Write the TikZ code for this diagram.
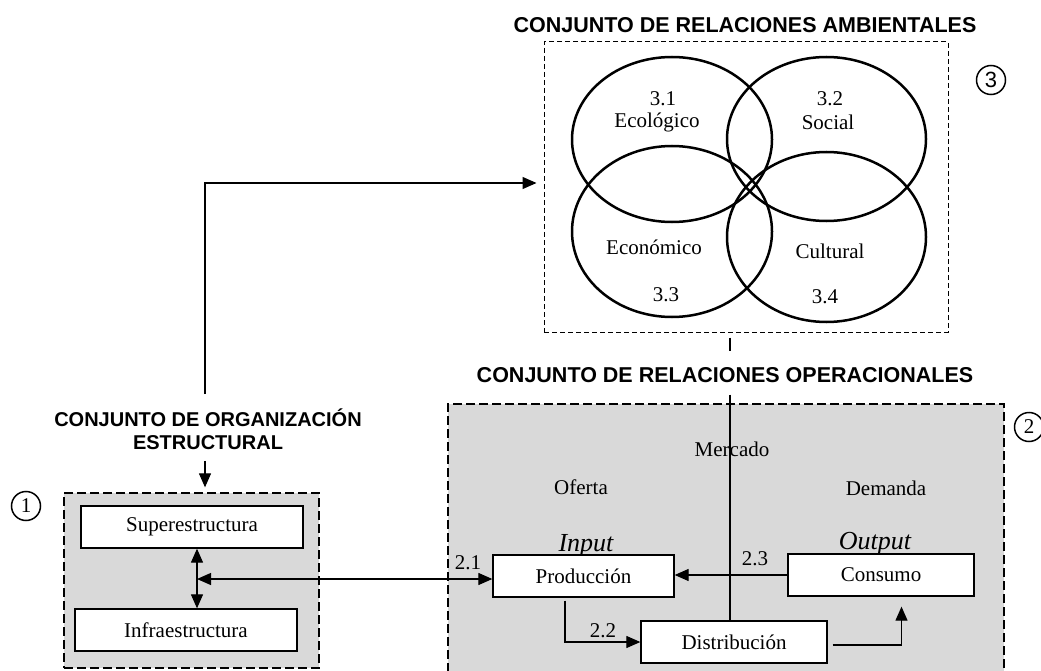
\documentclass[tikz,border=0pt]{standalone}
\usepackage{fontspec}
\setmainfont{Liberation Serif}
\setsansfont{Liberation Sans}
\usetikzlibrary{arrows.meta, graphs, shapes.geometric}

\begin{document}
\begin{tikzpicture}[
                x=1pt, y=-1pt,
                ->,
                >={Triangle[length=14pt, width=12pt]},
                line width=1.2pt,
                every node/.style={font=\fontsize{21}{24}\selectfont},
                title/.style={font=\fontsize{20}{23}\selectfont\sffamily\bfseries, align=center},
                bigtitle/.style={title, font=\fontsize{21.5}{24}\selectfont\sffamily\bfseries},
                box/.style={draw, fill=white, line width=1.3pt, minimum height=42pt, inner sep=0pt},
                area/.style={draw, fill=gray!30, dash pattern=on 9pt off 4pt, line width=1.3pt},
                venn/.style={draw, ellipse, line width=2.5pt, inner sep=0pt},
                tag/.style={draw, circle, minimum size=29pt, inner sep=0pt, line width=1.5pt},
                io/.style={font=\fontsize{26}{28}\selectfont\itshape},
            ]
            \useasboundingbox (0,0) rectangle (1041,671);

            \node[bigtitle] (envtitle) at (745,25) {CONJUNTO DE RELACIONES AMBIENTALES};
            \node[draw, dash pattern=on 5pt off 3pt, line width=1pt,
                minimum width=404pt, minimum height=290pt] (env) at (746,187) {};
            \node[venn, minimum width=200pt, minimum height=165pt] (eco) at (672,139.5) {};
            \node[venn, minimum width=199pt, minimum height=164pt] (soc) at (826.5,139) {};
            \node[venn, minimum width=200pt, minimum height=171pt] (econ) at (672,231.5) {};
            \node[venn, minimum width=199pt, minimum height=170pt] (cult) at (826.5,237) {};
            \node (n31) at (663,99) {3.1};
            \node (ecotext) at (657,122) {Ecológico};
            \node (n32) at (830,99) {3.2};
            \node (soctext) at (828,122) {Social};
            \node (econtext) at (654,247) {Económico};
            \node (n33) at (666,295) {3.3};
            \node (culttext) at (830,251) {Cultural};
            \node (n34) at (825,297) {3.4};
            \node[tag, font=\fontsize{22}{24}\selectfont\sffamily] (t3) at (991,80) {3};

            \node[bigtitle] (optitle) at (725,375) {CONJUNTO DE RELACIONES OPERACIONALES};
            \node[area, minimum width=556pt, minimum height=280pt] (ops) at (726,544) {};
            \node[tag] (t2) at (1029,427) {2};
            \node (mercado) at (732,449) {Mercado};
            \node (oferta) at (581,487) {Oferta};
            \node (demanda) at (886,488) {Demanda};
            \node[io] (input) at (586,546) {Input};
            \node[io] (output) at (875,544) {Output};
            \node[box, minimum width=181pt] (prod) at (583.5,576) {Producción};
            \node[box, minimum width=186pt] (cons) at (881,575) {Consumo};
            \node[box, minimum width=186pt] (dist) at (734,642) {Distribución};
            \node (l21) at (468,563) {2.1};
            \node (l22) at (603,631) {2.2};
            \node (l23) at (755,559) {2.3};
            \coordinate (mk) at (730,0);

            \node[title] (stitle) at (208,429.5) {CONJUNTO DE ORGANIZACIÓN\\ESTRUCTURAL};
            \node[area, minimum width=255pt, minimum height=175pt] (struct) at (191.5,580.5) {};
            \node[tag] (t1) at (26,506) {1};
            \node[box, minimum width=222pt] (sup) at (192,527) {Superestructura};
            \node[box, minimum width=222pt] (inf) at (186,630) {Infraestructura};
            \coordinate (hub) at (197,579);

            \draw[-, shorten <=5pt, shorten >=12pt] (env.south -| mk) -- (optitle.north -| mk);
            \draw[-, shorten <=8pt] (optitle.south -| mk) -- (dist.north -| mk);
            \draw[<->] (sup.south -| hub) -- (inf.north -| hub);
            \draw[<->] (hub) -- (hub -| prod.west);

            \graph[use existing nodes]{
                stitle ->[
                    to path={([xshift=-3pt]\tikztostart.north) |- ([yshift=4pt]\tikztotarget.west)},
                    shorten <=11pt,
                    shorten >=7pt,
                ]
                env
                ;

                stitle ->[
                    to path={([xshift=-3pt]\tikztostart.south) -- ([xshift=-3pt]\tikztostart.south |- \tikztotarget.north)},
                    shorten <=7pt,
                    shorten >=5pt,
                ]
                struct
                ;

                cons ->[
                    to path={(\tikztostart.west) -- (\tikztostart.west -| \tikztotarget.east)},
                ]
                prod ->[
                    to path={([xshift=-18.5pt]\tikztostart.south) |- (\tikztotarget.west)},
                    shorten <=3pt,
                ]
                dist ->[
                    to path={([yshift=-3pt]\tikztostart.east) -| ([xshift=20.5pt]\tikztotarget.south)},
                    shorten <=5pt,
                    shorten >=10pt,
                ]
                cons
                ;
            } ;
        \end{tikzpicture}
\end{document}
